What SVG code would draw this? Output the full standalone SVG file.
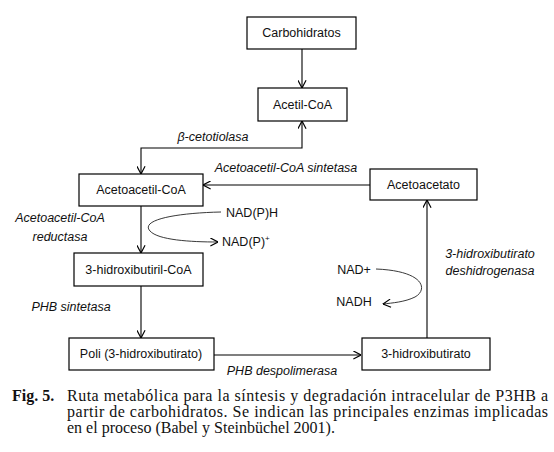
<svg xmlns="http://www.w3.org/2000/svg" width="554" height="452" viewBox="0 0 554 452">
<style>
.box{fill:#fff;stroke:#000;stroke-width:1.2}
.t{font-family:"Liberation Sans",Arial,sans-serif;font-size:12.5px;fill:#111;text-anchor:middle;dominant-baseline:central}
.i{font-style:italic}
.ln{fill:none;stroke:#000;stroke-width:1.1}
.cv{fill:none;stroke:#222;stroke-width:0.9}
.cap{font-family:"Liberation Serif","Times New Roman",serif;font-size:16px;fill:#111}
</style>
<defs>
<marker id="ah" viewBox="0 0 10 10" refX="9.5" refY="5" markerWidth="9" markerHeight="9" markerUnits="userSpaceOnUse" orient="auto-start-reverse">
<path d="M1,0.5 L9.5,5 L1,9.5" fill="none" stroke="#000" stroke-width="1.3"/>
</marker>
</defs>
<rect width="554" height="452" fill="#fff"/>
<g id="connectors">
<path class="ln" d="M302,49 V88" marker-end="url(#ah)"/>
<path class="ln" d="M302,121 V148 H141 V174" marker-start="url(#ah)" marker-end="url(#ah)"/>
<path class="ln" d="M370,185 H203" marker-end="url(#ah)"/>
<path class="ln" d="M141,206 V253" marker-end="url(#ah)"/>
<path class="ln" d="M141,286 V338" marker-end="url(#ah)"/>
<path class="ln" d="M214,355 H361" marker-end="url(#ah)"/>
<path class="ln" d="M427,338 V200" marker-end="url(#ah)"/>
<path class="cv" d="M221,212 C175,213 140,220 150,231 C158,240 190,242 218,242" marker-end="url(#ah)"/>
<path class="cv" d="M376,269 C425,271 428,290 415,297 C405,302 392,303 383,304" marker-end="url(#ah)"/>
</g>
<g id="carbohidratos"><rect class="box" x="247" y="17" width="109" height="32"/><text class="t" x="301.5" y="33">Carbohidratos</text></g>
<g id="acetil-coa"><rect class="box" x="258" y="88" width="89" height="33"/><text class="t" x="302.5" y="104.5">Acetil-CoA</text></g>
<g id="acetoacetil-coa"><rect class="box" x="79" y="174" width="124" height="32"/><text class="t" x="141" y="190">Acetoacetil-CoA</text></g>
<g id="acetoacetato"><rect class="box" x="370" y="169" width="107" height="31"/><text class="t" x="423.5" y="184.5">Acetoacetato</text></g>
<g id="hidroxibutiril-coa"><rect class="box" x="74" y="253" width="129" height="33"/><text class="t" x="138.5" y="269.5">3-hidroxibutiril-CoA</text></g>
<g id="poli"><rect class="box" x="69" y="338" width="145" height="32"/><text class="t" x="141" y="354">Poli (3-hidroxibutirato)</text></g>
<g id="hidroxibutirato"><rect class="box" x="362" y="338" width="128" height="32"/><text class="t" x="426" y="354">3-hidroxibutirato</text></g>
<g id="labels">
<text class="t i" x="213" y="137">β-cetotiolasa</text>
<text class="t i" x="286" y="168">Acetoacetil-CoA sintetasa</text>
<text class="t i" x="60" y="218">Acetoacetil-CoA</text>
<text class="t i" x="60" y="237">reductasa</text>
<text class="t" x="226" y="213" style="text-anchor:start">NAD(P)H</text>
<text class="t" x="222" y="242" style="text-anchor:start">NAD(P)<tspan font-size="8" dy="-4">+</tspan></text>
<text class="t i" x="71" y="307">PHB sintetasa</text>
<text class="t i" x="282" y="371">PHB despolimerasa</text>
<text class="t i" x="490" y="254">3-hidroxibutirato</text>
<text class="t i" x="490" y="271">deshidrogenasa</text>
<text class="t" x="354" y="270">NAD+</text>
<text class="t" x="354" y="302">NADH</text>
</g>
<g id="caption">
<text class="cap" x="12" y="401" font-weight="bold">Fig. 5.</text>
<text class="cap" x="67" y="401" textLength="481" lengthAdjust="spacing">Ruta metabólica para la síntesis y degradación intracelular de P3HB a</text>
<text class="cap" x="67" y="417" textLength="481" lengthAdjust="spacing">partir de carbohidratos. Se indican las principales enzimas implicadas</text>
<text class="cap" x="67" y="433">en el proceso (Babel y Steinbüchel 2001).</text>
</g>
</svg>
